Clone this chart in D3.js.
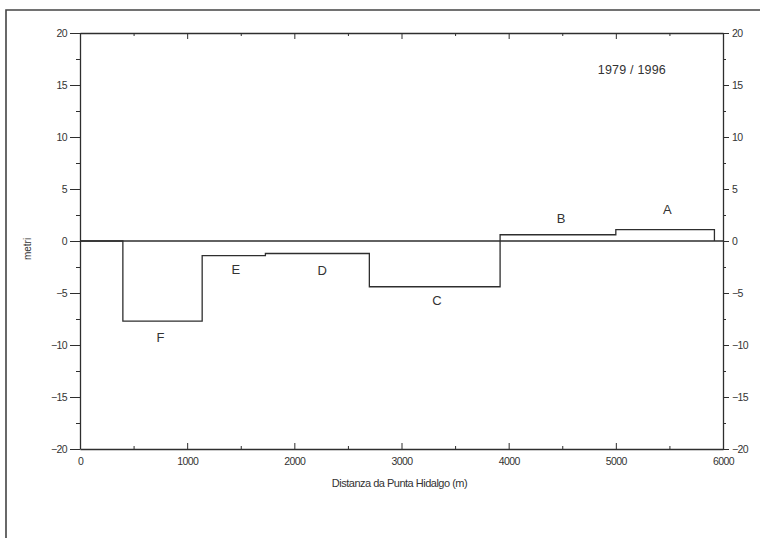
<!DOCTYPE html>
<html>
<head>
<meta charset="utf-8">
<script src="https://cdn.jsdelivr.net/npm/d3@7"></script>
<style>
  html, body { margin: 0; padding: 0; background: #fff; }
  svg { display: block; }
  text { font-family: "Liberation Sans", Arial, sans-serif; fill: #333; }
</style>
</head>
<body>
<svg id="chart" width="760" height="538"></svg>
<script>
// Shoreline change profile, 1979 vs 1996, along the coast from Punta Hidalgo
const stepX = [0, 400, 400, 1140, 1140, 1730, 1730, 2700, 2700, 3920, 3920, 5000, 5000, 5920, 5920];
const stepY = [0, 0, -7.7, -7.7, -1.4, -1.4, -1.2, -1.2, -4.4, -4.4, 0.6, 0.6, 1.1, 1.1, 0];
const segmentNames = ["A", "B", "C", "D", "E", "F"];
const segmentLabelX = [5480, 4490, 3330, 2260, 1455, 750];
const segmentLabelY = [2.9, 2.1, -5.8, -2.9, -2.8, -9.4];
const xTicks = [0, 1000, 2000, 3000, 4000, 5000, 6000];
const xMinorTicks = [500, 1500, 2500, 3500, 4500, 5500];
const yTicks = [-20, -15, -10, -5, 0, 5, 10, 15, 20];
const yMinorTicks = [-17.5, -12.5, -7.5, -2.5, 2.5, 7.5, 12.5, 17.5];
const periodLabel = "1979 / 1996";
const xTitle = "Distanza da Punta Hidalgo (m)";
const yTitle = "metri";

const svg = d3.select("#chart");
const ink = "#2e2e2e";
const plotLeft = 80, plotRight = 723, plotTop = 33, plotBottom = 449;

const x = d3.scaleLinear().domain([0, 6000]).range([plotLeft, plotRight]);
const y = d3.scaleLinear().domain([-20, 20]).range([plotBottom, plotTop]);

// page frame
svg.append("path")
  .attr("d", `M6,538 L6,10 L760,10`)
  .attr("fill", "none").attr("stroke", "#444").attr("stroke-width", 1.6);

function styleAxis(g) {
  g.selectAll(".domain").attr("stroke", ink).attr("stroke-width", 1.3);
  g.selectAll(".tick line").attr("stroke", ink).attr("stroke-width", 1);
  g.selectAll(".tick text").attr("font-size", 10.5).attr("letter-spacing", -0.6).attr("fill", "#333");
}

function minor(g) {
  g.select(".domain").remove();
  g.selectAll("line").attr("stroke", ink);
}

// bottom axis (ticks inward)
const gb = svg.append("g").attr("transform", `translate(0,${plotBottom})`)
  .call(d3.axisBottom(x).tickValues(xTicks).tickSizeInner(-6).tickSizeOuter(0).tickPadding(9).tickFormat(d3.format("d")));
styleAxis(gb);
svg.append("g").attr("transform", `translate(0,${plotBottom})`)
  .call(d3.axisBottom(x).tickValues(xMinorTicks).tickSizeInner(-3).tickSizeOuter(0).tickFormat(""))
  .call(minor);

// top axis (ticks inward, no labels)
const gt = svg.append("g").attr("transform", `translate(0,${plotTop})`)
  .call(d3.axisTop(x).tickValues(xTicks).tickSizeInner(-6).tickSizeOuter(0).tickFormat(""));
styleAxis(gt);
svg.append("g").attr("transform", `translate(0,${plotTop})`)
  .call(d3.axisTop(x).tickValues(xMinorTicks).tickSizeInner(-3).tickSizeOuter(0).tickFormat(""))
  .call(minor);

// left axis (ticks outward)
const gl = svg.append("g").attr("transform", `translate(${plotLeft},0)`)
  .call(d3.axisLeft(y).tickValues(yTicks).tickSizeInner(10).tickSizeOuter(0).tickPadding(3).tickFormat(d3.format("d")));
styleAxis(gl);
svg.append("g").attr("transform", `translate(${plotLeft},0)`)
  .call(d3.axisLeft(y).tickValues(yMinorTicks).tickSizeInner(4).tickSizeOuter(0).tickFormat(""))
  .call(minor);

// right axis (ticks outward)
const gr = svg.append("g").attr("transform", `translate(${plotRight},0)`)
  .call(d3.axisRight(y).tickValues(yTicks).tickSizeInner(6).tickSizeOuter(0).tickPadding(3).tickFormat(d3.format("d")));
styleAxis(gr);
svg.append("g").attr("transform", `translate(${plotRight},0)`)
  .call(d3.axisRight(y).tickValues(yMinorTicks).tickSizeInner(3).tickSizeOuter(0).tickFormat(""))
  .call(minor);

// zero reference line
svg.append("line")
  .attr("x1", x(0)).attr("x2", x(6000)).attr("y1", y(0)).attr("y2", y(0))
  .attr("stroke", ink).attr("stroke-width", 1.3);

// shoreline change profile
const pts = stepX.map((v, i) => [v, stepY[i]]);
svg.append("path")
  .datum(pts)
  .attr("d", d3.line().x(d => x(d[0])).y(d => y(d[1])))
  .attr("fill", "none").attr("stroke", ink).attr("stroke-width", 1.3);

// segment letters
svg.selectAll(".seg").data(segmentNames).join("text")
  .attr("class", "seg")
  .attr("x", (d, i) => x(segmentLabelX[i]))
  .attr("y", (d, i) => y(segmentLabelY[i]))
  .attr("text-anchor", "middle").attr("dominant-baseline", "middle")
  .attr("font-size", 13)
  .text(d => d);

svg.append("text")
  .attr("x", x(5150)).attr("y", y(16.4))
  .attr("text-anchor", "middle").attr("dominant-baseline", "middle")
  .attr("font-size", 12.5).attr("letter-spacing", 0.2)
  .text(periodLabel);

svg.append("text")
  .attr("x", (plotLeft + plotRight) / 2 - 2).attr("y", 484)
  .attr("text-anchor", "middle").attr("dominant-baseline", "middle")
  .attr("font-size", 11).attr("letter-spacing", -0.5)
  .text(xTitle);

svg.append("text")
  .attr("transform", `translate(28,249) rotate(-90)`)
  .attr("text-anchor", "middle").attr("dominant-baseline", "middle")
  .attr("font-size", 10)
  .text(yTitle);
</script>
</body>
</html>
